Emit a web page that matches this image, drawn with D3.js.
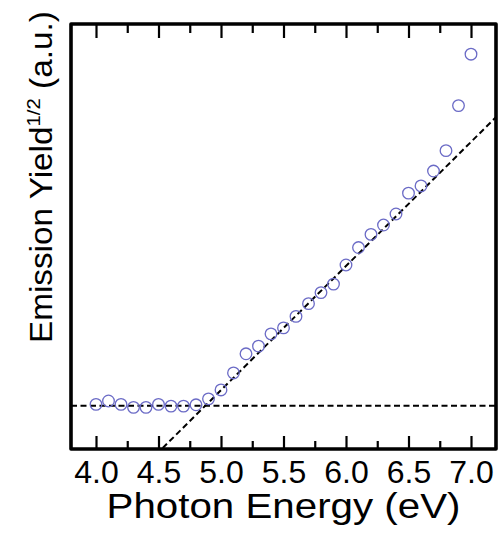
<!DOCTYPE html>
<html>
<head>
<meta charset="utf-8">
<script src="https://cdn.jsdelivr.net/npm/d3@7"></script>
<style>
  html, body { margin: 0; padding: 0; background: #fff; }
  svg { display: block; }
  text { font-family: "Liberation Sans", Arial, Helvetica, sans-serif; fill: #000; }
</style>
</head>
<body>
<svg id="chart" width="499" height="534"></svg>
<script>
// Photon energy (eV) of each measured point
const energy = [4.0, 4.1, 4.2, 4.3, 4.4, 4.5, 4.6, 4.7, 4.8, 4.9,
                5.0, 5.1, 5.2, 5.3, 5.4, 5.5, 5.6, 5.7, 5.8, 5.9,
                6.0, 6.1, 6.2, 6.3, 6.4, 6.5, 6.6, 6.7, 6.8, 6.9, 7.0];
// Square root of the photoemission yield (arbitrary units)
const yieldSqrt = [1.05, 1.13, 1.05, 0.98, 0.98, 1.05, 1.01, 1.01, 1.04, 1.18,
                   1.39, 1.79, 2.24, 2.42, 2.71, 2.85, 3.12, 3.42, 3.68, 3.88,
                   4.33, 4.74, 5.05, 5.27, 5.53, 6.02, 6.19, 6.54, 7.02, 8.08, 9.29];
// Background level and linear fit of the rising edge
const background = 1.02;
const threshold = 4.875;   // eV, where the fit meets the background
const fitSlope = 2.92;     // yield^1/2 per eV
// Axis ticks
const majorTicks = [4.0, 4.5, 5.0, 5.5, 6.0, 6.5, 7.0];
const minorTicks = [4.25, 4.75, 5.25, 5.75, 6.25, 6.75];
const tickLabels = ["4.0", "4.5", "5.0", "5.5", "6.0", "6.5", "7.0"];

const svg = d3.select("#chart");
const frame = { left: 71, right: 496, top: 24, bottom: 449 };

const x = d3.scaleLinear().domain([3.8, 7.2]).range([frame.left, frame.right]);
const y = d3.scaleLinear().domain([0, 10]).range([frame.bottom, frame.top]);

svg.append("defs").append("clipPath").attr("id", "plot-clip")
  .append("rect").attr("x", frame.left).attr("y", frame.top)
  .attr("width", frame.right - frame.left).attr("height", frame.bottom - frame.top);

// bottom axis: inward ticks, labels below; top axis: inward ticks only
const bottomMajor = d3.axisBottom(x).tickValues(majorTicks)
  .tickFormat((d, i) => tickLabels[i]).tickSizeInner(-13).tickSizeOuter(0).tickPadding(11);
const bottomMinor = d3.axisBottom(x).tickValues(minorTicks)
  .tickFormat("").tickSizeInner(-8).tickSizeOuter(0);
const topMajor = d3.axisTop(x).tickValues(majorTicks)
  .tickFormat("").tickSizeInner(-14).tickSizeOuter(0);
const topMinor = d3.axisTop(x).tickValues(minorTicks)
  .tickFormat("").tickSizeInner(-9).tickSizeOuter(0);

function styleAxis(g) {
  g.select(".domain").remove();
  g.selectAll(".tick line").attr("stroke", "#000").attr("stroke-width", 2.2);
}

const gx = svg.append("g").attr("transform", `translate(0,${frame.bottom})`).call(bottomMajor).call(styleAxis);
gx.attr("font-size", null).attr("font-family", null);
gx.selectAll(".tick text").attr("fill", "#000").style("font-size", "32px");
svg.append("g").attr("transform", `translate(0,${frame.bottom})`).call(bottomMinor).call(styleAxis);
svg.append("g").attr("transform", `translate(0,${frame.top})`).call(topMajor).call(styleAxis);
svg.append("g").attr("transform", `translate(0,${frame.top})`).call(topMinor).call(styleAxis);

// background level and fitted onset line
const plot = svg.append("g").attr("clip-path", "url(#plot-clip)");
plot.append("line")
  .attr("x1", x(3.8)).attr("x2", x(7.2))
  .attr("y1", y(background)).attr("y2", y(background))
  .attr("stroke", "#000").attr("stroke-width", 2).attr("stroke-dasharray", "6,3.5");

const fitStart = threshold - background / fitSlope;
const fitLine = d3.line().x(d => x(d)).y(d => y(background + fitSlope * (d - threshold)));
plot.append("path")
  .attr("d", fitLine([fitStart - 0.1, 7.3]))
  .attr("fill", "none").attr("stroke", "#000").attr("stroke-width", 2)
  .attr("stroke-dasharray", "6,3.5");

// measured points
plot.selectAll("circle.pt").data(energy).join("circle")
  .attr("class", "pt")
  .attr("cx", d => x(d))
  .attr("cy", (d, i) => y(yieldSqrt[i]))
  .attr("r", 5.8)
  .attr("fill", "none").attr("stroke", "#6b6bc6").attr("stroke-width", 1.3);

// frame
svg.append("rect")
  .attr("x", frame.left).attr("y", frame.top)
  .attr("width", frame.right - frame.left).attr("height", frame.bottom - frame.top)
  .attr("fill", "none").attr("stroke", "#000").attr("stroke-width", 3.6)
  .attr("stroke-linejoin", "round");

// x axis title, stretched to its drawn width
const xt = svg.append("g").attr("transform", `translate(${(frame.left + frame.right) / 2},518)`);
const xtText = xt.append("text").attr("text-anchor", "middle").style("font-size", "35px")
  .text("Photon Energy (eV)");
const xtw = xtText.node().getComputedTextLength();
xtText.attr("transform", `scale(${354 / xtw},1)`);

// y axis title with superscript
const yt = svg.append("g").attr("transform", "translate(52,343) rotate(-90)");
const ytText = yt.append("text").attr("text-anchor", "start").style("font-size", "31px");
ytText.append("tspan").text("Emission Yield");
ytText.append("tspan").style("font-size", "19px").attr("dy", -12).text("1/2");
ytText.append("tspan").attr("dy", 12).text(" (a.u.)");
const ytw = ytText.node().getComputedTextLength();
ytText.attr("transform", `scale(${332 / ytw},1)`);
</script>
</body>
</html>
